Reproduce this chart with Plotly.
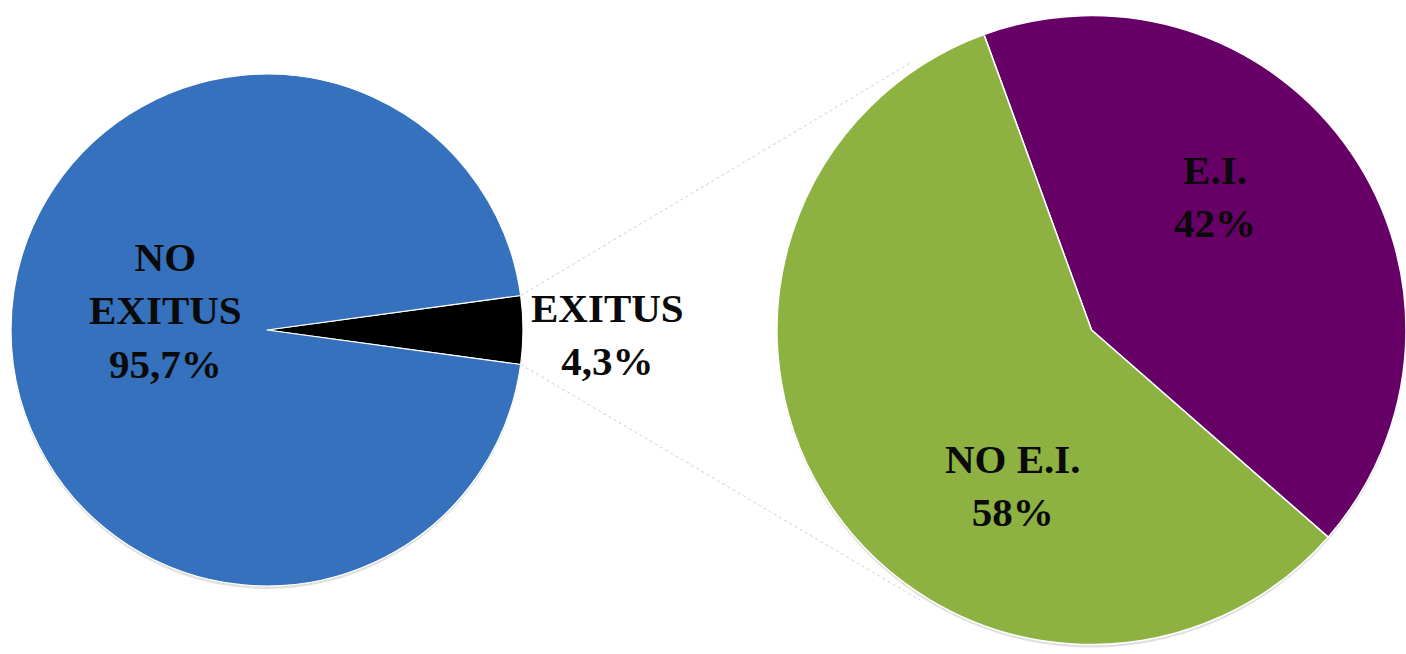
import math
import plotly.graph_objects as go

# Canvas size in pixels
W, H = 1406, 654

# Main pie: outcome
main_labels = ["EXITUS", "NO EXITUS"]
main_label_lines = ["EXITUS", "NO<br>EXITUS"]
main_values = [4.3, 95.7]
main_colors = ["#000000", "#3571bc"]

# Secondary pie: breakdown of EXITUS
sub_labels = ["E.I.", "NO E.I."]
sub_values = [42, 58]
sub_colors = ["#660066", "#8db241"]

FONT = "Liberation Serif"

# pixel boxes of the two pies (left, top, right, bottom)
MAIN_BOX = (11, 74, 523, 586)
SUB_BOX = (777, 15, 1406, 645)


def px_x(p):
    return p / W


def px_y(p):
    return 1 - p / H


def fmt(v):
    return f"{v:g}".replace(".", ",") + "%"


def domain_of(box):
    x0, y0, x1, y1 = box
    return dict(x=[px_x(x0), px_x(x1)], y=[px_y(y1), px_y(y0)])


fig = go.Figure()

# soft drop shadows behind each pie
for (x0, y0, x1, y1) in [MAIN_BOX, SUB_BOX]:
    fig.add_trace(go.Pie(
        values=[1], labels=["shadow"], sort=False,
        marker=dict(colors=["rgba(0,0,0,0.12)"], line=dict(width=0)),
        textinfo="none", hoverinfo="skip", showlegend=False,
        domain=domain_of((x0, y0 + 3, x1, y1 + 3)),
    ))

# main pie, with the EXITUS slice centred at 3 o'clock
total_main = sum(main_values)
exitus_span = main_values[0] / total_main * 360
main_rotation = 90 - exitus_span / 2
fig.add_trace(go.Pie(
    labels=main_labels, values=main_values, sort=False,
    direction="clockwise", rotation=main_rotation,
    marker=dict(colors=main_colors, line=dict(color="white", width=1.2)),
    textinfo="none", showlegend=False,
    domain=domain_of(MAIN_BOX),
))

# secondary pie
fig.add_trace(go.Pie(
    labels=sub_labels, values=sub_values, sort=False,
    direction="clockwise", rotation=-20,
    marker=dict(colors=sub_colors, line=dict(color="white", width=1.5)),
    textinfo="none", showlegend=False,
    domain=domain_of(SUB_BOX),
))

# connector lines from the corners of the EXITUS slice to the secondary pie
cx = (MAIN_BOX[0] + MAIN_BOX[2]) / 2
cy = (MAIN_BOX[1] + MAIN_BOX[3]) / 2
r = (MAIN_BOX[2] - MAIN_BOX[0]) / 2
targets = [(912, 62), (920, 600)]
for ang, (xb, yb) in zip([main_rotation, main_rotation + exitus_span], targets):
    a = math.radians(ang)
    xa, ya = cx + r * math.sin(a), cy - r * math.cos(a)
    fig.add_shape(
        type="line", xref="paper", yref="paper",
        x0=px_x(xa), y0=px_y(ya), x1=px_x(xb), y1=px_y(yb),
        line=dict(color="#cfcfcf", width=1, dash="dot"),
    )

# data labels
label_pos = {
    "NO EXITUS": (165, 310),
    "EXITUS": (607, 334),
    "E.I.": (1215, 196),
    "NO E.I.": (1013, 485),
}
texts = []
for lab, lines, v in zip(main_labels, main_label_lines, main_values):
    texts.append((lab, f"{lines}<br>{fmt(v)}"))
for lab, v in zip(sub_labels, sub_values):
    texts.append((lab, f"{lab}<br>{fmt(v)}"))

for lab, txt in texts:
    x, y = label_pos[lab]
    fig.add_annotation(
        x=px_x(x), y=px_y(y), xref="paper", yref="paper",
        text=f"<b>{txt}</b>", showarrow=False,
        xanchor="center", yanchor="middle", align="center",
        font=dict(family=FONT, size=41, color="#0a0a0a"),
    )

fig.update_layout(
    width=W, height=H,
    margin=dict(l=0, r=0, t=0, b=0),
    paper_bgcolor="white", plot_bgcolor="white",
    showlegend=False,
)

fig.write_html("out.html")
